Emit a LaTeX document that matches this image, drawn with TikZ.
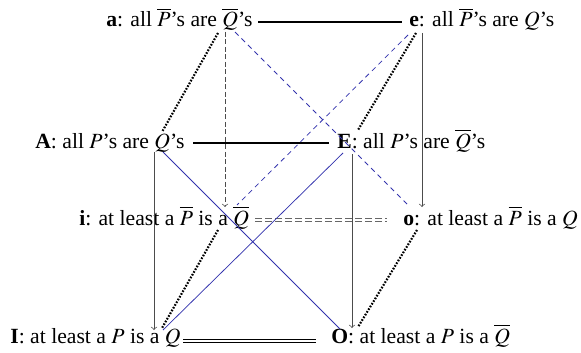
\documentclass[tikz,border=0pt]{standalone}
\usepackage{mathptmx}
\usepackage{fontspec}
\setmainfont{Liberation Serif}
\begin{document}
\begin{tikzpicture}[x=0.6pt,y=-0.6pt,
  lbl/.style={anchor=base west,inner sep=0pt,font=\fontsize{13}{15}\selectfont},
  heavy/.style={line width=0.9pt},
  dots/.style={line width=1.3pt,dash pattern=on 1pt off 0.9pt},
  imp/.style={->,draw=black!70,line width=0.45pt},
  dimp/.style={->,draw=black!70,line width=0.45pt,dash pattern=on 3pt off 1.5pt},
  contra/.style={draw=blue!60!black!80,line width=0.45pt},
  dcontra/.style={draw=blue!60!black!80,line width=0.45pt,dash pattern=on 3pt off 2.5pt},
  subc/.style={draw=black!60,line width=0.45pt,dash pattern=on 4pt off 2pt},
  dbl/.style={draw=black,double,double distance=1.2pt,line width=0.45pt}]
\useasboundingbox (0,0) rectangle (581,353);
% nodes
\node[lbl] (a) at (106,27) {\textbf{a}: all $\overline{P}$'s are $\overline{Q}$'s};
\node[lbl] (e) at (409,27) {\textbf{e}: all $\overline{P}$'s are $Q$'s};
\node[lbl] (A) at (35,148) {\textbf{A}: all $P$'s are $Q$'s};
\node[lbl] (E) at (337,148) {\textbf{E}: all $P$'s are $\overline{Q}$'s};
\node[lbl] (i) at (79,225) {\textbf{i}: at least a $\overline{P}$ is a $\overline{Q}$};
\node[lbl] (o) at (403,225) {\textbf{o}: at least a $\overline{P}$ is a $Q$};
\node[lbl] (I) at (10,343) {\textbf{I}: at least a $P$ is a $Q$};
\node[lbl] (O) at (331,343) {\textbf{O}: at least a $P$ is a $\overline{Q}$};
% connector end points
\coordinate (aR) at (258,22); \coordinate (eL) at (402,22);
\coordinate (AR) at (193,143); \coordinate (EL) at (329,143);
\coordinate (iR) at (255,218); \coordinate (oL) at (387,218);
\coordinate (iR2) at (255,221); \coordinate (oL2) at (387,221);
\coordinate (IR) at (183,341); \coordinate (OL) at (316,341);
\coordinate (aD) at (218,33); \coordinate (AU) at (162,132);
\coordinate (eD) at (416,33); \coordinate (EU) at (358,130);
\coordinate (iD) at (218,230); \coordinate (IU) at (162,328);
\coordinate (oD) at (417,230); \coordinate (OU) at (358,327);
\coordinate (AB) at (154,152); \coordinate (IT) at (154,330);
\coordinate (EB) at (352,154); \coordinate (OT) at (352,328);
\coordinate (aB) at (225,32); \coordinate (iT) at (225,207);
\coordinate (eB) at (422,33); \coordinate (oT) at (422,207);
\coordinate (AQ) at (163,152); \coordinate (OQ) at (340,329);
\coordinate (IQ) at (163,330); \coordinate (EQ) at (343,153);
\coordinate (aQ) at (235,32); \coordinate (oQ) at (408,205);
\coordinate (eQ) at (408,35); \coordinate (iQ) at (237,205);
% connectors
\draw[heavy] (aR) -- (eL);
\draw[heavy] (AR) -- (EL);
\draw[subc] (iR) -- (oL);
\draw[subc] (iR2) -- (oL2);
\draw[dbl] (IR) -- (OL);
\draw[dots] (aD) -- (AU);
\draw[dots] (eD) -- (EU);
\draw[dots] (iD) -- (IU);
\draw[dots] (oD) -- (OU);
\draw[imp] (AB) -- (IT);
\draw[imp] (EB) -- (OT);
\draw[dimp] (aB) -- (iT);
\draw[imp] (eB) -- (oT);
\draw[contra] (AQ) -- (OQ);
\draw[contra] (IQ) -- (EQ);
\draw[dcontra] (aQ) -- (oQ);
\draw[dcontra] (eQ) -- (iQ);
\end{tikzpicture}
\end{document}
